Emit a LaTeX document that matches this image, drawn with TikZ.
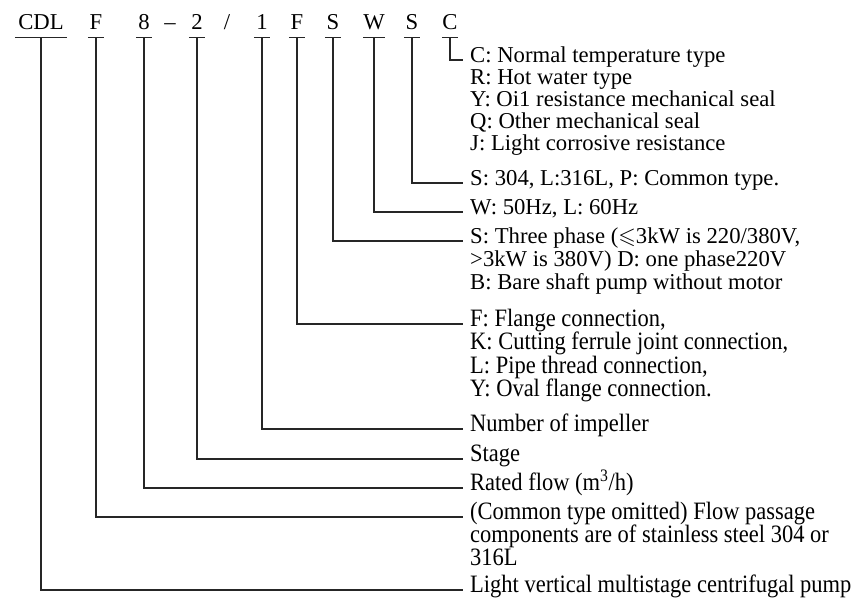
\documentclass[tikz,border=0pt]{standalone}
\usepackage{fontspec}
\usepackage{amssymb}
\setmainfont{Liberation Serif}
\newfontfamily\condfont{Liberation Serif}[FakeStretch=0.9]
\newcommand{\hfnt}{\fontsize{22.7}{24}\selectfont}
\newcommand{\dfnt}{\fontsize{22.7}{22}\selectfont}
\newcommand{\cfnt}{\condfont\fontsize{25}{24}\selectfont}
\begin{document}
\begin{tikzpicture}[x=1pt,y=-1pt,
  hdr/.style={anchor=base,inner sep=0pt,text depth=7pt,minimum width=16pt,font=\hfnt},
  dsc/.style={anchor=west,inner xsep=7pt,inner ysep=0pt,text height=0.7em,text depth=0.24em,font=\dfnt},
  cnd/.style={dsc,font=\cfnt},
  conn/.style={draw=black!85,line width=1.1pt},
  uline/.style={draw=black!85,line width=1.1pt}]
\path[use as bounding box] (0,0) rectangle (856,601);
% header
\node[hdr,minimum width=52pt] (hCDL) at (41,30) {CDL};
\node[hdr] (hF1) at (96,30) {F};
\node[hdr] (h8) at (144,30) {8};
\node[anchor=base,inner sep=0pt,font=\hfnt] (hdash) at (170,30) {–};
\node[hdr] (h2) at (197,30) {2};
\node[anchor=base,inner sep=0pt,font=\hfnt] (hslash) at (227,30) {/};
\node[hdr] (h1) at (262,30) {1};
\node[hdr] (hF2) at (297,30) {F};
\node[hdr] (hS1) at (333,30) {S};
\node[hdr] (hW) at (374,30) {W};
\node[hdr] (hS2) at (412,30) {S};
\node[hdr] (hC) at (450,30) {C};
\foreach \n in {hCDL,hF1,h8,h2,h1,hF2,hS1,hW,hS2,hC}
  \draw[uline] (\n.south west) -- (\n.south east);
% descriptions
\node[dsc] (dC1) at (463,60) {C: Normal temperature type};
\node[dsc] (dC2) at (463,82) {R: Hot water type};
\node[dsc] (dC3) at (463,104) {Y: Oi1 resistance mechanical seal};
\node[dsc] (dC4) at (463,126) {Q: Other mechanical seal};
\node[dsc] (dC5) at (463,148) {J: Light corrosive resistance};
\node[dsc] (dS2) at (463,183) {S: 304, L:316L, P: Common type.};
\node[dsc] (dW) at (463,212) {W: 50Hz, L: 60Hz};
\node[dsc] (dS1a) at (463,241) {S: Three phase ($\leqslant$3kW is 220/380V,};
\node[dsc] (dS1b) at (463,264) {>3kW is 380V) D: one phase220V};
\node[dsc] (dS1c) at (463,287) {B: Bare shaft pump without motor};
\node[cnd] (dF2a) at (463,324) {F: Flange connection,};
\node[cnd] (dF2b) at (463,347.5) {K: Cutting ferrule joint connection,};
\node[cnd] (dF2c) at (463,371) {L: Pipe thread connection,};
\node[cnd] (dF2d) at (463,394.5) {Y: Oval flange connection.};
\node[cnd] (d1) at (463,429) {Number of impeller};
\node[cnd] (d2) at (463,459) {Stage};
\node[cnd] (d8) at (463,488) {Rated flow (m\textsuperscript{3}/h)};
\node[cnd] (dF1a) at (463,517) {(Common type omitted) Flow passage};
\node[cnd] (dF1b) at (463,540) {components are of stainless steel 304 or};
\node[cnd] (dF1c) at (463,563) {316L};
\node[cnd] (dCDL) at (463,590) {Light vertical multistage centrifugal pump};
% connectors
\draw[conn] (hC.south) |- (dC1.west);
\draw[conn] (hS2.south) |- (dS2.west);
\draw[conn] (hW.south) |- (dW.west);
\draw[conn] (hS1.south) |- (dS1a.west);
\draw[conn] (hF2.south) |- (dF2a.west);
\draw[conn] (h1.south) |- (d1.west);
\draw[conn] (h2.south) |- (d2.west);
\draw[conn] (h8.south) |- (d8.west);
\draw[conn] (hF1.south) |- (dF1a.west);
\draw[conn] (hCDL.south) |- (dCDL.west);
\end{tikzpicture}
\end{document}
